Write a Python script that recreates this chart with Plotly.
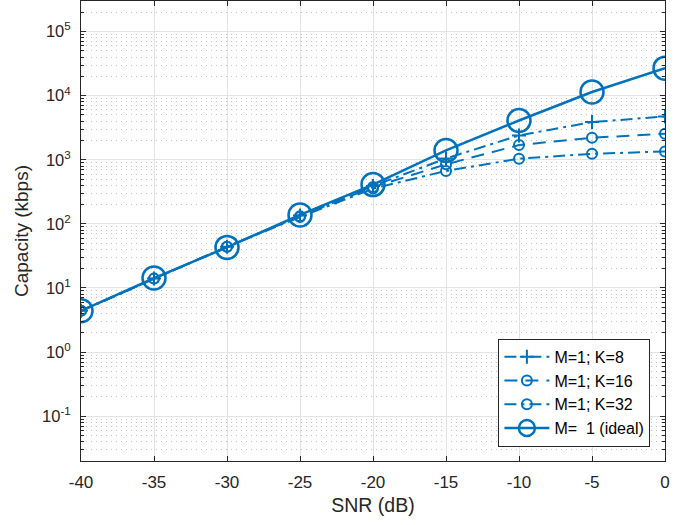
import plotly.graph_objects as go
import math

snr = [-40, -35, -30, -25, -20, -15, -10, -5, 0]
cap_k8 = [4.4, 14, 44, 135, 390, 1050, 2400, 3870, 4740]
cap_k16 = [4.4, 14, 44, 132, 375, 850, 1700, 2210, 2550]
cap_k32 = [4.4, 14, 44, 128, 355, 670, 1040, 1240, 1350]
cap_ideal = [4.4, 14.3, 43, 138, 410, 1400, 4100, 11400, 26900]
y_exps = [-1, 0, 1, 2, 3, 4, 5]
x_ticks = [-40, -35, -30, -25, -20, -15, -10, -5, 0]

blue = "#0072BD"
axc = "#262626"
font = "Liberation Sans, Arial, sans-serif"

fig = go.Figure()
fig.add_trace(go.Scatter(x=snr, y=cap_k8, name="M=1; K=8", mode="lines+markers",
                         line=dict(color=blue, width=2, dash="12px,5px,3px,5px"),
                         marker=dict(symbol="cross-thin-open", size=10, line=dict(color=blue, width=2))))
fig.add_trace(go.Scatter(x=snr, y=cap_k16, name="M=1; K=16", mode="lines+markers",
                         line=dict(color=blue, width=2, dash="13px,8px"),
                         marker=dict(symbol="circle-open", size=10, line=dict(color=blue, width=2))))
fig.add_trace(go.Scatter(x=snr, y=cap_k32, name="M=1; K=32", mode="lines+markers",
                         line=dict(color=blue, width=2, dash="12px,5px,3px,5px"),
                         marker=dict(symbol="circle-open", size=10, line=dict(color=blue, width=2))))
fig.add_trace(go.Scatter(x=snr, y=cap_ideal, name="M=  1 (ideal)", mode="lines+markers",
                         line=dict(color=blue, width=2.5),
                         marker=dict(symbol="circle-open", size=23, line=dict(color=blue, width=2.5))))

fig.update_layout(
    width=699, height=525,
    margin=dict(l=81, r=33.5, t=1, b=63.5),
    paper_bgcolor="white", plot_bgcolor="white",
    font=dict(family=font, size=16, color=axc),
    showlegend=True,
    legend=dict(x=0.975, y=0.031, xanchor="right", yanchor="bottom",
                bgcolor="white", bordercolor=axc, borderwidth=1,
                font=dict(size=16, color="black"), tracegroupgap=0,
                itemwidth=45),
)
fig.update_xaxes(
    range=[-40, 0], tickmode="array", tickvals=x_ticks,
    ticktext=[str(v) for v in x_ticks],
    ticks="inside", ticklen=5, tickcolor=axc, mirror="ticks",
    showline=True, linecolor=axc, linewidth=1,
    showgrid=True, gridcolor="#e3e3e3", gridwidth=1, zeroline=False,
    title=dict(text="SNR (dB)", font=dict(size=19.5), standoff=6),
    tickfont=dict(size=17), ticklabelstandoff=6,
)
fig.update_yaxes(
    type="log", range=[math.log10(0.02), math.log10(3e5)],
    tickmode="array", tickvals=[10 ** e for e in y_exps],
    ticktext=["10<sup>%d</sup>" % e for e in y_exps],
    ticks="inside", ticklen=5, tickcolor=axc, mirror="ticks",
    showline=True, linecolor=axc, linewidth=1,
    showgrid=True, gridcolor="#e3e3e3", gridwidth=1, zeroline=False,
    minor=dict(ticks="inside", ticklen=3, tickcolor=axc, showgrid=True, dtick="D1",
               gridcolor="#c4c4c4", griddash="1px,4px", gridwidth=1),
    title=dict(text="Capacity (kbps)", font=dict(size=19), standoff=8),
    tickfont=dict(size=16.5), ticklabelstandoff=6,
)
fig.write_html("out.html")
